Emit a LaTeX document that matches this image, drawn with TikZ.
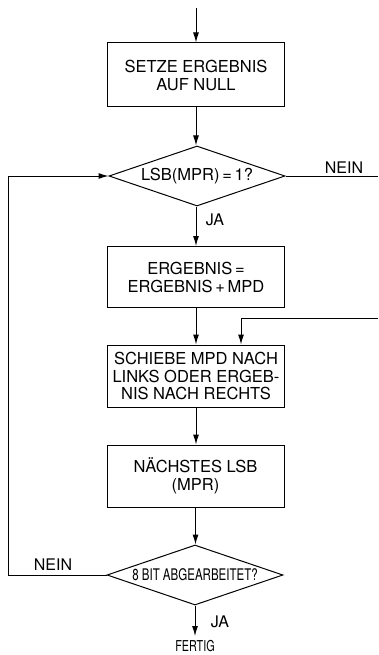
\documentclass[tikz,border=0pt]{standalone}
\usepackage{fontspec}
\setmainfont{TeX Gyre Heros}
\newfontfamily\condfont[FakeStretch=0.72]{TeX Gyre Heros}
\usetikzlibrary{shapes.geometric,arrows.meta}
\begin{document}
\begin{tikzpicture}[x=1pt,y=1pt,
  line width=1pt,
  >={Latex[length=10pt,width=6pt]},
  procbox/.style={draw,rectangle,minimum width=177pt,inner sep=0pt,align=center,font=\fontsize{16.5}{18}\selectfont},
  decide/.style={draw,diamond,aspect=2.9,minimum width=176pt,minimum height=60pt,inner sep=0pt,font=\fontsize{16.5}{18}\selectfont},
  lbl/.style={font=\fontsize{16}{18}\selectfont}]
\useasboundingbox (0,0) rectangle (378,-655);
\coordinate (start) at (196,-8);
\node[procbox,minimum height=64pt] (b1) at (196,-75) {SETZE ERGEBNIS\\AUF NULL};
\node[decide] (d1) at (197,-176) {LSB(MPR)\,=\,1?};
\node[procbox,minimum height=61pt] (b2) at (196,-277) {ERGEBNIS\,=\\ERGEBNIS\,+\,MPD};
\node[procbox,minimum height=62pt,font=\fontsize{16.5}{17.5}\selectfont] (b3) at (196,-376) {SCHIEBE MPD NACH\\LINKS ODER ERGEB-\\NIS NACH RECHTS};
\node[procbox,minimum height=62pt] (b4) at (195.5,-476) {NÄCHSTES LSB\\(MPR)};
\node[decide,font=\condfont\fontsize{16}{18}\selectfont] (d2) at (195,-575) {8 BIT ABGEARBEITET?};
\node[font=\condfont\fontsize{15}{17}\selectfont,anchor=base,inner sep=1pt] (fertig) at (195,-651) {FERTIG};
\coordinate (fin) at (195,-636);
\coordinate (rn) at (378,-176);
\coordinate (rin) at (378,-318);
\coordinate (jn) at (241,-318);
\coordinate (ll) at (8,-575);
\coordinate (lu) at (8,-176);
\draw[->] (start) -- (b1.north);
\draw[->] (b1.south) -- (d1.north -| b1.south);
\draw[->] (d1.south -| b2.north) -- (b2.north);
\draw[->] (b2.south) -- (b3.north -| b2.south);
\draw[->] (b3.south) -- (b4.north -| b3.south);
\draw[->] (b4.south) -- (d2.north -| b4.south);
\draw[->] (d2.south) -- (fin);
\draw (d1.east) -- (rn);
\draw[->] (rin) -- (jn) -- (jn |- b3.north);
\draw[->] (d2.west) -- (ll) -- (lu) -- (d1.west);
\node[lbl,anchor=base] (nein1) at (344,-173) {NEIN};
\node[lbl,anchor=base west] (ja1) at (202,-225) {JA};
\node[lbl,anchor=base] (nein2) at (53,-570) {NEIN};
\node[lbl,anchor=base west] (ja2) at (207,-627) {JA};
\end{tikzpicture}
\end{document}
